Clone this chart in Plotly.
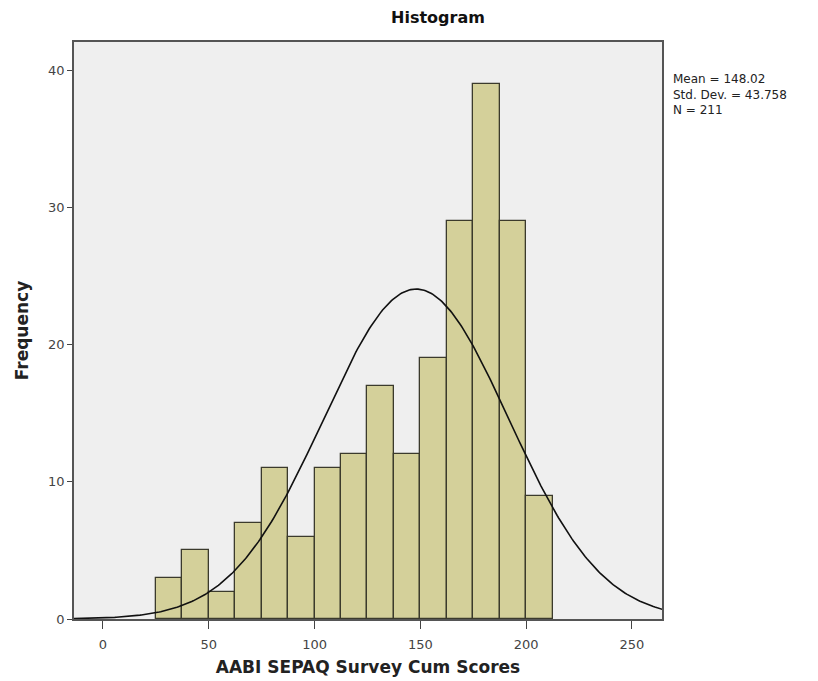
import numpy as np
import plotly.graph_objects as go

# Data
bin_start = 25.0
bin_width = 12.5
counts = [3, 5, 2, 7, 11, 6, 11, 12, 17, 12, 19, 29, 39, 29, 9]
mean_val = 148.02
std_val = 43.758
n_val = 211
x_ticks = [0, 50, 100, 150, 200, 250]
y_ticks = [0, 10, 20, 30, 40]

centers = [bin_start + bin_width * (i + 0.5) for i in range(len(counts))]

# Normal curve scaled to the histogram
xs = np.linspace(-14, 265, 400)
ys = n_val * bin_width / (std_val * np.sqrt(2 * np.pi)) * np.exp(-0.5 * ((xs - mean_val) / std_val) ** 2)

font_family = "DejaVu Sans"

fig = go.Figure()
fig.add_trace(go.Bar(
    x=centers, y=counts, width=bin_width,
    marker=dict(color="#d4d09a", line=dict(color="#3b3a2c", width=1.3)),
    hoverinfo="x+y", showlegend=False,
))
fig.add_trace(go.Scatter(
    x=xs, y=ys, mode="lines",
    line=dict(color="#111111", width=1.6),
    showlegend=False, hoverinfo="skip",
))

fig.update_layout(
    width=810, height=673,
    margin=dict(l=66, r=156, t=34, b=62, autoexpand=False),
    paper_bgcolor="white",
    plot_bgcolor="#efefef",
    bargap=0,
    font=dict(family=font_family, size=12, color="#333333"),
    xaxis=dict(
        range=[-13.7, 264.2],
        tickvals=x_ticks,
        automargin=False,
        ticks="outside", ticklen=8, tickwidth=1.3, tickcolor="#444444",
        ticklabelstandoff=5,
        showgrid=False, zeroline=False,
        showline=True, linecolor="#555555", linewidth=1.5, mirror=True,
        tickfont=dict(size=13, color="#444444"),
        title=dict(text="<b>AABI SEPAQ Survey Cum Scores</b>",
                   font=dict(size=17, color="#222222"), standoff=10),
    ),
    yaxis=dict(
        range=[0, 42.05],
        tickvals=y_ticks,
        automargin=False,
        ticks="outside", ticklen=5, tickwidth=1.3, tickcolor="#444444",
        showgrid=False, zeroline=False,
        showline=True, linecolor="#555555", linewidth=1.5, mirror=True,
        tickfont=dict(size=13, color="#444444"),
        title=dict(text="<b>Frequency</b>",
                   font=dict(size=17, color="#222222"), standoff=15),
    ),
    annotations=[
        dict(text="<b>Histogram</b>", xref="paper", yref="paper",
             x=(438 - 74) / (662 - 74), y=1, yanchor="bottom", xanchor="center",
             yshift=13, showarrow=False,
             font=dict(size=16, color="#111111")),
        dict(text=f"Mean = {mean_val:.2f}<br>Std. Dev. = {std_val:.3f}<br>N = {n_val}",
             xref="paper", yref="paper", x=1, y=(619 - 70) / (619 - 42),
             xanchor="left", yanchor="top", xshift=9, showarrow=False, align="left",
             font=dict(size=12, color="#222222")),
    ],
)

fig.write_html("out.html")
